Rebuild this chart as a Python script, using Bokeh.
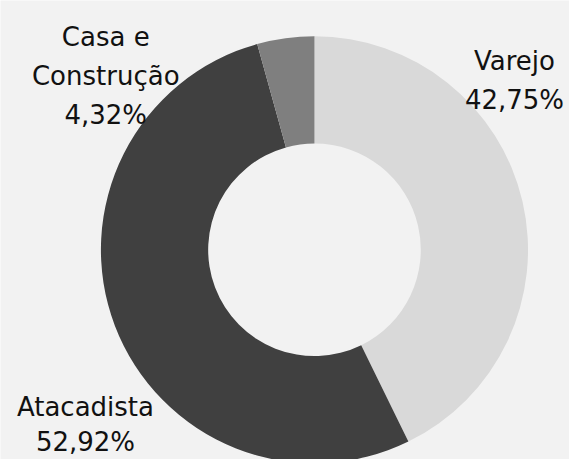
import numpy as np
from bokeh.plotting import figure
from bokeh.models import Range1d, ColumnDataSource
from bokeh.core.properties import value
from bokeh.embed import file_html
from bokeh.resources import INLINE

categories = ["Varejo", "Atacadista", "Casa e Construção"]
shares = [42.75, 52.92, 4.32]
colors = ["#d9d9d9", "#404040", "#7f7f7f"]

W, H = 569, 459
REF_W, REF_H = 585, 475
s = H / REF_H
xw = W / s
x0 = (REF_W - xw) / 2

p = figure(width=W, height=H, output_backend="svg", toolbar_location=None,
           x_range=Range1d(x0, x0 + xw), y_range=Range1d(0, REF_H), min_border=0)
p.axis.visible = False
p.grid.visible = False
p.outline_line_color = None
p.background_fill_color = "#f2f2f2"
p.border_fill_color = "#f2f2f2"

vals = np.array(shares, dtype=float)
frac = vals / vals.sum()
ends = np.pi / 2 - 2 * np.pi * np.cumsum(frac)
starts = np.concatenate([[np.pi / 2], ends[:-1]])

cx, cy = 323, REF_H - 258
src = ColumnDataSource(dict(start=starts, end=ends, color=colors, cat=categories))
p.annular_wedge(x=cx, y=cy, inner_radius=110, outer_radius=221,
                start_angle="end", end_angle="start", color="color",
                line_color=None, source=src)

def fmt(v):
    return f"{v:.2f}".replace(".", ",") + "%"

# label lines: (x_center, baseline from top, text) in reference pixels
label_lines = [
    (107, 38, "Casa e"), (107, 78, "Construção"), (107, 118, fmt(shares[2])),
    (530, 63, categories[0]), (530, 103, fmt(shares[0])),
    (86, 421, categories[1]), (86, 457, fmt(shares[1])),
]
lx = [a for a, b, c in label_lines]
ly = [REF_H - b for a, b, c in label_lines]
lt = [c for a, b, c in label_lines]
p.text(x=lx, y=ly, text=lt, text_align="center", text_baseline="alphabetic",
       text_font=value("DejaVu Sans"), text_font_size="26px", text_color="#111111")

open("out.html", "w").write(file_html(p, INLINE))
